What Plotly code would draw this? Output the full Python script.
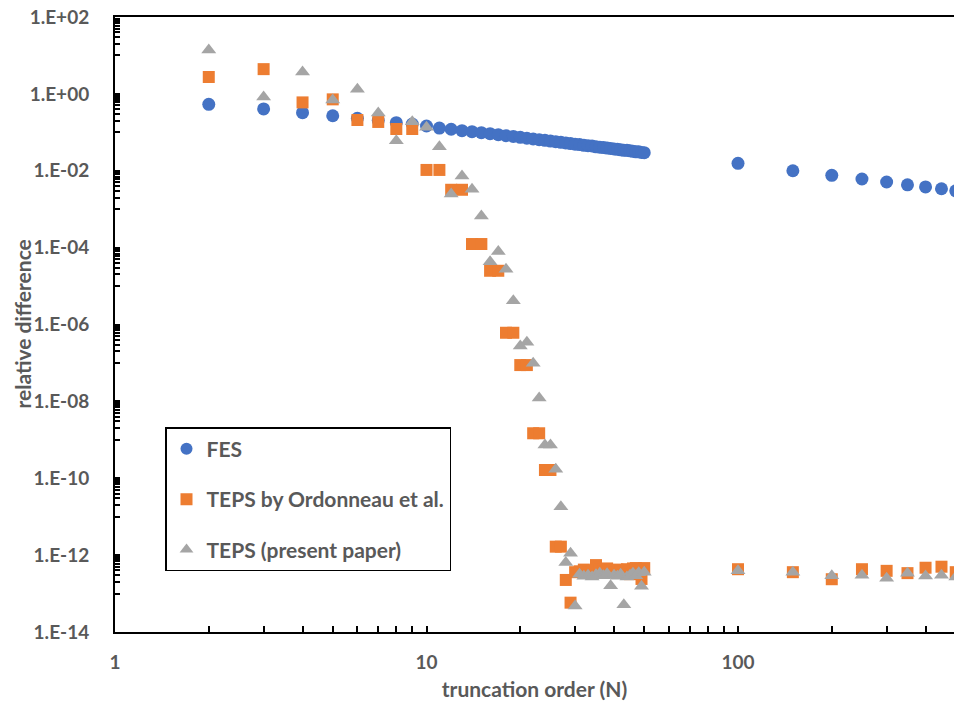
import plotly.graph_objects as go

# ---------------- data ----------------
fes_n = list(range(2, 51)) + [100, 150, 200, 250, 300, 350, 400, 450, 500]
fes_v = [0.535, 0.405, 0.324, 0.270, 0.232, 0.205, 0.178, 0.164, 0.146, 0.129,
         0.120, 0.110, 0.104, 0.098, 0.092, 0.087, 0.082, 0.078, 0.074, 0.070,
         0.067, 0.064, 0.062, 0.059, 0.057, 0.055, 0.053, 0.051, 0.049, 0.048,
         0.046, 0.045, 0.044, 0.042, 0.041, 0.040, 0.039, 0.038, 0.037, 0.036,
         0.035, 0.034, 0.034, 0.033, 0.032, 0.031, 0.031, 0.030, 0.0295,
         0.0156, 0.0100, 0.0076, 0.0061, 0.0051, 0.0043, 0.0038, 0.0034, 0.0030]

ord_n = list(range(2, 51)) + [100, 150, 200, 250, 300, 350, 400, 450, 500]
ord_v = [2.75, 4.4, 0.60, 0.72, 0.209, 0.186, 0.122, 0.122, 0.0105, 0.0105,
         0.0032, 0.0032, 1.24e-4, 1.24e-4, 2.5e-5, 2.5e-5, 6.1e-7, 6.1e-7, 8.8e-8, 8.8e-8,
         1.48e-9, 1.48e-9, 1.64e-10, 1.64e-10, 1.66e-12, 1.66e-12, 2.26e-13, 5.8e-14, 3.6e-13, 3.8e-13,
         4.2e-13, 3.5e-13, 4.0e-13, 5.5e-13, 4.2e-13, 3.8e-13, 4.5e-13, 4.0e-13, 3.6e-13, 4.2e-13,
         3.8e-13, 3.5e-13, 4.3e-13, 3.2e-13, 4.5e-13, 4.6e-13, 3.9e-13, 2.4e-13, 4.6e-13,
         4.3e-13, 3.6e-13, 2.36e-13, 4.3e-13, 3.9e-13, 3.4e-13, 4.7e-13, 5.0e-13, 3.6e-13]

pres_n = list(range(2, 51)) + [100, 150, 200, 250, 300, 350, 400, 450, 500]
pres_v = [13.9, 0.83, 3.7, 0.69, 1.31, 0.32, 0.0605, 0.189, 0.135, 0.0423,
          0.00248, 0.0073, 0.00329, 6.65e-4, 4.3e-5, 7.9e-5, 2.73e-5, 4.17e-6, 2.76e-7, 3.44e-7,
          9.8e-8, 1.22e-8, 7.3e-10, 7.3e-10, 1.71e-10, 1.82e-11, 6.4e-13, 1.12e-12, 4.75e-14, 3.2e-13,
          2.8e-13, 3.0e-13, 2.7e-13, 3.1e-13, 3.4e-13, 2.9e-13, 3.3e-13, 1.6e-13, 3.0e-13, 2.8e-13,
          3.2e-13, 5.1e-14, 2.7e-13, 3.0e-13, 3.4e-13, 2.9e-13, 3.5e-13, 1.55e-13, 3.6e-13,
          3.95e-13, 3.6e-13, 2.9e-13, 3.0e-13, 2.5e-13, 3.4e-13, 2.85e-13, 3.0e-13, 2.7e-13]

series_names = ["FES", "TEPS by Ordonneau et al.", "TEPS (present paper)"]

x_major = [1, 10, 100]
x_labels = ["1", "10", "100"]
y_major_exp = [2, 0, -2, -4, -6, -8, -10, -12, -14]
y_labels = ["1.E+02", "1.E+00", "1.E-02", "1.E-04", "1.E-06", "1.E-08", "1.E-10", "1.E-12", "1.E-14"]

# ---------------- tick construction ----------------
x_tickvals, x_ticktext = [], []
for dec in [1, 10, 100]:
    for k in range(1, 10):
        v = dec * k
        x_tickvals.append(v)
        x_ticktext.append(x_labels[x_major.index(v)] if v in x_major else "")

y_tickvals, y_ticktext = [], []
for e, lab in zip(y_major_exp, y_labels):
    y_tickvals.append(10.0 ** e)
    y_ticktext.append(lab)
for e in range(-13, 2, 2):
    for k in range(1, 10):
        y_tickvals.append(k * 10.0 ** e)
        y_ticktext.append("")

FONT = "Lato"
GREY = "#595959"
TICK_FONT = dict(family=FONT, size=19, color=GREY, weight="bold")
TITLE_FONT = dict(family=FONT, size=21, color=GREY, weight="bold")

fig = go.Figure()
fig.add_trace(go.Scatter(x=fes_n, y=fes_v, mode="markers", name=series_names[0],
                         legendgroup="a",
                         marker=dict(symbol="circle", size=13, color="#4472C4")))
fig.add_trace(go.Scatter(x=ord_n, y=ord_v, mode="markers", name=series_names[1],
                         legendgroup="b",
                         marker=dict(symbol="square", size=12, color="#ED7D31")))
fig.add_trace(go.Scatter(x=pres_n, y=pres_v, mode="markers", name=series_names[2],
                         legendgroup="c",
                         marker=dict(symbol="triangle-up", size=13, color="#A5A5A5")))

fig.update_layout(
    width=954, height=708,
    margin=dict(l=115, r=0, t=17, b=76),
    paper_bgcolor="white", plot_bgcolor="white",
    font=dict(family=FONT, size=19, color=GREY, weight="bold"),
    showlegend=True,
    legend=dict(x=0.0596, y=0.333, xanchor="left", yanchor="top",
                bgcolor="white", bordercolor="black", borderwidth=1.5,
                font=TITLE_FONT,
                tracegroupgap=20, traceorder="grouped",
                itemsizing="constant"),
    xaxis=dict(type="log", range=[0, 2.6934],
               showline=True, linecolor="black", linewidth=2, mirror=True,
               showgrid=False, zeroline=False,
               tickmode="array", tickvals=x_tickvals, ticktext=x_ticktext,
               ticks="inside", ticklen=6, tickwidth=1.5, tickcolor="black",
               ticklabelstandoff=12,
               tickfont=TICK_FONT,
               title=dict(text="truncation order (N)", standoff=11, font=TITLE_FONT)),
    yaxis=dict(type="log", range=[-14, 2],
               showline=True, linecolor="black", linewidth=2,
               showgrid=False, zeroline=False,
               tickmode="array", tickvals=y_tickvals, ticktext=y_ticktext,
               ticks="inside", ticklen=5, tickwidth=1.5, tickcolor="black",
               ticklabelstandoff=20,
               tickfont=TICK_FONT),
    annotations=[dict(text="relative difference", textangle=-90,
                      xref="paper", yref="paper", x=0, y=0.5,
                      xanchor="center", yanchor="middle", xshift=-93,
                      showarrow=False, font=TITLE_FONT)],
)

fig.write_html("out.html")
